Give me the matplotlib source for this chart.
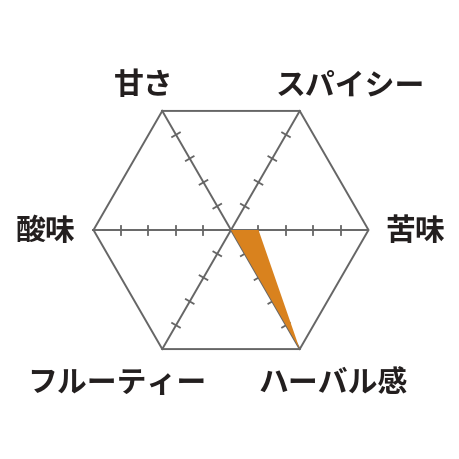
import numpy as np
import matplotlib
matplotlib.use("Agg")
import matplotlib.pyplot as plt

plt.rcParams["font.family"] = ["Noto Sans CJK JP", "DejaVu Sans"]

# axes in clockwise order starting at upper-left
LABELS = ["甘さ", "スパイシー", "苦味", "ハーバル感", "フルーティー", "酸味"]
ANGLES_DEG = [120, 60, 0, -60, -120, 180]
VALUES = [0, 0, 1, 5, 0, 0]
MAX_VALUE = 5

CX, CY = 231, 231      # centre in pixels
RADIUS = 137.5
LINE_COLOR = "#666666"
FILL_COLOR = "#d9821e"
TEXT_COLOR = "#231f1f"

# label centres (pixels)
LABEL_POS = {
    "甘さ": (144, 85),
    "スパイシー": (350, 85),
    "苦味": (415, 231),
    "ハーバル感": (333, 383),
    "フルーティー": (117, 383),
    "酸味": (46, 231),
}

fig = plt.figure(figsize=(4.6, 4.6), dpi=100)
ax = fig.add_axes([0, 0, 1, 1])
ax.set_xlim(0, 460)
ax.set_ylim(460, 0)
ax.set_aspect("equal")
ax.axis("off")

theta = np.deg2rad(ANGLES_DEG)
ux = np.cos(theta)
uy = -np.sin(theta)   # y axis is flipped

# hexagon outline
hx = CX + RADIUS * ux
hy = CY + RADIUS * uy
ax.plot(np.append(hx, hx[0]), np.append(hy, hy[0]), color=LINE_COLOR, lw=1.4,
        solid_joinstyle="miter")

# spokes + ticks
tick_half = 4.5
for i in range(len(LABELS)):
    ax.plot([CX, hx[i]], [CY, hy[i]], color=LINE_COLOR, lw=1.4)
    px, py = -uy[i], ux[i]
    for k in range(1, MAX_VALUE):
        r = RADIUS * k / MAX_VALUE
        tx, ty = CX + r * ux[i], CY + r * uy[i]
        ax.plot([tx - px * tick_half, tx + px * tick_half],
                [ty - py * tick_half, ty + py * tick_half],
                color=LINE_COLOR, lw=1.3)

# data polygon
vals = np.array(VALUES) / MAX_VALUE * RADIUS
ax.fill(CX + vals * ux, CY + vals * uy, color=FILL_COLOR, lw=0, zorder=3)

for lab in LABELS:
    x, y = LABEL_POS[lab]
    ax.text(x, y, lab, ha="center", va="center", fontsize=21.5,
            fontweight="bold", color=TEXT_COLOR)

fig.savefig("out.png", dpi=100, facecolor="white")
